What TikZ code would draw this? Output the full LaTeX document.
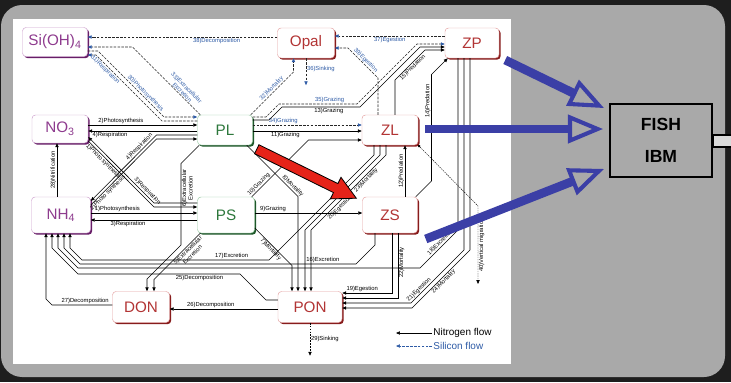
\documentclass[tikz,border=0pt]{standalone}
\usepackage{fontspec}
\setmainfont{Liberation Sans}
\usepackage{xcolor}
\usepackage{tikz}
\usetikzlibrary{arrows.meta,positioning,calc,shadows}
\definecolor{framedark}{RGB}{30,30,30}
\definecolor{framegray}{RGB}{169,169,169}
\definecolor{nutpurple}{RGB}{142,59,142}
\definecolor{nutshade}{RGB}{104,30,104}
\definecolor{nutedge}{RGB}{205,160,205}
\definecolor{detred}{RGB}{178,52,52}
\definecolor{detshade}{RGB}{135,28,28}
\definecolor{detedge}{RGB}{228,160,160}
\definecolor{phygreen}{RGB}{45,120,60}
\definecolor{physhade}{RGB}{30,88,42}
\definecolor{phyedge}{RGB}{150,200,160}
\definecolor{siblue}{RGB}{46,91,166}
\definecolor{fatblue}{RGB}{59,63,166}
\definecolor{hotred}{RGB}{230,35,25}
\definecolor{stubgray}{RGB}{218,218,218}
\newdimen\pxu
\pxu=0.03cm
\tikzset{
  pool/.style={draw, rounded corners=3pt, fill=white, line width=0.4pt, inner sep=1pt,
    font=\fontsize{13}{14}\selectfont},
  nutpool/.style={pool, draw=nutedge, text=nutpurple,
    drop shadow={shadow xshift=1.4pt, shadow yshift=-1.4pt, fill=nutshade, opacity=1}},
  phypool/.style={pool, draw=phyedge, text=phygreen,
    drop shadow={shadow xshift=1.4pt, shadow yshift=-1.4pt, fill=physhade, opacity=1}},
  detpool/.style={pool, draw=detedge, text=detred,
    drop shadow={shadow xshift=1.4pt, shadow yshift=-1.4pt, fill=detshade, opacity=1}},
  nflow/.style={line width=0.5pt, -{Triangle[length=3.4pt,width=2.8pt]}},
  siflow/.style={line width=0.5pt, draw=black!85, dash pattern=on 2.2pt off 1.1pt,
    -{Triangle[length=3.4pt,width=2.8pt,color=siblue]}},
  migflow/.style={line width=0.35pt, dash pattern=on 1.2pt off 0.8pt,
    arrows={Circle[length=2.2pt]-Triangle[length=3.4pt,width=2.8pt]}},
  flab/.style={font=\fontsize{5}{5.5}\selectfont, inner sep=0.6pt},
  silab/.style={flab, text=siblue},
  legtext/.style={font=\fontsize{8.5}{9}\selectfont, inner sep=1pt},
  fat/.style={draw=fatblue, line width=7.5pt,
    -{Triangle[open,length=30pt,width=24pt,line width=3.5pt]}},
  fishbox/.style={draw, line width=1.6pt, fill=framegray, align=center,
    font=\fontsize{15}{27}\selectfont\bfseries},
}

\begin{document}
\begin{tikzpicture}[x=0.03cm, y=-0.03cm]
  % frame
  \useasboundingbox (0,0) rectangle (731,382);
  \fill[framedark] (0,0) rectangle (731,382);
  \fill[framegray, rounded corners=18pt] (1,5) rectangle (725,377);
  \fill[white] (13,19) rectangle (511,364);

  % pools
  \node[nutpool, minimum width=65\pxu, minimum height=29\pxu] (SiOH) at (55,42) {Si(OH)\textsubscript{4}};
  \node[detpool, minimum width=57\pxu, minimum height=30\pxu] (Opal) at (306,43) {Opal};
  \node[detpool, minimum width=54\pxu, minimum height=30\pxu] (ZP) at (472,43) {ZP};
  \node[nutpool, minimum width=56\pxu, minimum height=28\pxu] (NO3) at (60,129) {NO\textsubscript{3}};
  \node[phypool, minimum width=55\pxu, minimum height=30\pxu] (PL) at (225,130) {PL};
  \node[detpool, minimum width=56\pxu, minimum height=30\pxu] (ZL) at (390,130) {ZL};
  \node[nutpool, minimum width=59\pxu, minimum height=36\pxu] (NH4) at (61,215) {NH\textsubscript{4}};
  \node[phypool, minimum width=57\pxu, minimum height=36\pxu] (PS) at (226,215) {PS};
  \node[detpool, minimum width=55\pxu, minimum height=36\pxu] (ZS) at (390,215) {ZS};
  \node[detpool, minimum width=57\pxu, minimum height=31\pxu] (DON) at (141,307) {DON};
  \node[detpool, minimum width=64\pxu, minimum height=31\pxu] (PON) at (310,307) {PON};

  % silicon flows
  \draw[siflow] (Opal.west |- 0,37) -- node[silab, below, pos=0.32] {38)Decomposition} (SiOH.east |- 0,37);
  \draw[siflow] ($(PL.north west)+(3,0)$) -- node[silab, sloped, above, align=center, pos=0.3] {33)Extracellular\\Excretion} (132.5,47) -- (SiOH.east |- 0,47);
  \draw[siflow] (SiOH.east |- 0,51) -- (98,51) -- node[silab, sloped, above, pos=0.68] {30)Photosynthesis} (164,117) -- (PL.west |- 0,117);
  \draw[siflow] (PL.west |- 0,121) -- (162,121) -- node[silab, sloped, below, pos=0.82] {31)Respiration} (96,55) -- (SiOH.east |- 0,55);
  \draw[siflow] ($(PL.north east)+(-2,0)$) -- node[silab, sloped, above, pos=0.55] {32)Mortality} (293.5,72) -- (Opal.south -| 293.5,0);
  \draw[siflow] (Opal.south) -- node[silab, right, pos=0.4] {36)Sinking} ++(0,27);
  \draw[siflow] (ZP.west |- 0,36) -- node[silab, below, pos=0.5] {37)Egestion} (Opal.east |- 0,36);
  \draw[siflow] (ZL.north -| 378,0) -- (378,78) -- node[silab, sloped, above, pos=0.5] {39)Egestion} (348,48) -- (Opal.east |- 0,48);
  \draw[siflow] (PL.east |- 0,117) -- (266,117) -- (279,104) -- node[silab, above, pos=0.65] {35)Grazing} (357,104) -- (417,44) -- (ZP.west |- 0,44);
  \draw[siflow] (PL.east |- 0,125) -- node[silab, above, pos=0.28] {34)Grazing} (ZL.west |- 0,125);

  % uptake and respiration
  \draw[nflow] (NO3.east |- 0,125) -- node[flab, above, pos=0.3] {2)Photosynthesis} (PL.west |- 0,125);
  \draw[nflow] (PL.west |- 0,131) -- node[flab, below, pos=0.8] {4)Respiration} (NO3.east |- 0,131);
  \draw[nflow] (NH4.east |- 0,213) -- node[flab, above, pos=0.25] {1)Photosynthesis} (PS.west |- 0,213);
  \draw[nflow] (PS.west |- 0,220) -- node[flab, below, pos=0.65] {3)Respiration} (NH4.east |- 0,220);
  \draw[nflow] (NO3.east |- 0,141) -- node[flab, sloped, below, pos=0.27] {1)Photo synthesis} (154,207) -- (PS.west |- 0,207);
  \draw[nflow] (PS.west |- 0,203) -- (154,203) -- node[flab, sloped, above, pos=0.14] {3)Respiration} (NO3.east |- 0,137);
  \draw[nflow] (NH4.east |- 0,205) -- node[flab, sloped, below, pos=0.22] {2)Photo synthesis} (156.5,139) -- (PL.west |- 0,139);
  \draw[nflow] (PL.west |- 0,135) -- (156.5,135) -- node[flab, sloped, above, pos=0.22] {4)Respiration} (NH4.east |- 0,201);
  \draw[nflow] (NH4.north -| 57,0) -- node[flab, rotate=90, above, pos=0.5] {28)Nitrification} (NO3.south -| 57,0);

  % phytoplankton losses
  \draw[nflow] ($(PS.south west)+(3,0)$) -- node[flab, sloped, below, align=center, pos=0.32] {5)Extracellular\\Excretion} (154,279.5) -- (DON.north -| 154,0);
  \draw[nflow] ($(PL.south west)+(2,0)$) -- (181,163.5) -- node[flab, rotate=90, below, align=center, pos=0.3] {6)Extracellular\\Excretion} (181,245) -- (147,279) -- (DON.north -| 147,0);
  \draw[nflow] (PS.east |- 0,228) -- node[flab, sloped, below, pos=0.5] {7)Mortality} (292,265.5) -- (PON.north -| 292,0);
  \draw[nflow] ($(PL.south east)+(-6,0)$) -- node[flab, sloped, above, pos=0.85] {8)Mortality} (298,196.5) -- (PON.north -| 298,0);

  % grazing and predation
  \draw[nflow] (PS.east |- 0,213) -- node[flab, above, pos=0.17] {9)Grazing} (ZS.west |- 0,213);
  \draw[nflow] ($(PS.north east)+(-3,0)$) -- node[flab, sloped, above, pos=0.17] {10)Grazing} (308.5,140) -- (ZL.west |- 0,140);
  \draw[nflow] (PL.east |- 0,131) -- node[flab, below, pos=0.3] {11)Grazing} (ZL.west |- 0,131);
  \draw[nflow] (ZS.north -| 405,0) -- node[flab, rotate=90, above, pos=0.5] {12)Predation} (ZL.south -| 405,0);
  \draw[nflow] (PL.east |- 0,120) -- (269,120) -- (282,107) -- node[flab, below, pos=0.6] {13)Grazing} (360,107) -- (420,47) -- (ZP.west |- 0,47);
  \draw[nflow] ($(ZS.north east)+(-2,0)$) -- (431.5,181) -- node[flab, rotate=90, above, pos=0.75] {14)Predation} (431.5,74.5) -- ($(ZP.south west)+(3,0)$);
  \draw[nflow] (ZL.north -| 395,0) -- (395,80) -- node[flab, sloped, below, pos=0.5] {15)Predation} (425,50) -- (ZP.west |- 0,50);

  % zooplankton losses
  \draw[nflow] (ZS.south -| 375,0) -- (375,245) -- (356,264) -- node[flab, above, pos=0.12] {16)Excretion} (80,264) -- (64,248) -- (NH4.south -| 64,0);
  \draw[nflow] (ZL.south -| 374,0) -- (374,155) -- (269,260) -- node[flab, above, pos=0.2] {17)Excretion} (82,260) -- (70,248) -- (NH4.south -| 70,0);
  \draw[nflow] (ZP.south -| 458,0) -- (458,230) -- node[flab, sloped, above, pos=0.4] {18)Excretion} (420,268) -- (78,268) -- (58,248) -- (NH4.south -| 58,0);
  \draw[nflow] (ZS.south -| 392,0) -- (392,293) -- node[flab, above, pos=0.6] {19)Egestion} (PON.east |- 0,293);
  \draw[nflow] (ZL.south -| 380,0) -- (380,155) -- node[flab, sloped, below=4.5pt, pos=0.62] {20)Egestion} (305,230) -- (PON.north -| 305,0);
  \draw[nflow] (ZP.south -| 464,0) -- (464,250) -- node[flab, sloped, above, pos=0.8] {21)Egestion} (411,303) -- (PON.east |- 0,303);
  \draw[nflow] (ZS.south -| 398,0) -- node[flab, rotate=90, below, pos=0.45] {22)Mortality} (398,298) -- (PON.east |- 0,298);
  \draw[nflow] (ZL.south -| 386,0) -- (386,155) -- node[flab, sloped, below, pos=0.3] {23)Mortality} (311,230) -- (PON.north -| 311,0);
  \draw[nflow] (ZP.south -| 470,0) -- (470,250) -- node[flab, sloped, below, pos=0.5] {24)Mortality} (412,308) -- (PON.east |- 0,308);
  \draw[migflow] (ZL.south east) -- (478,206) -- node[flab, rotate=90, below, pos=0.5] {40)Vertical migration} (478,284);

  % detritus
  \draw[nflow] (PON.west |- 0,300) -- (266,300) -- (240,274) -- node[flab, below, pos=0.25] {25)Decomposition} (78,274) -- (52,248) -- (NH4.south -| 52,0);
  \draw[nflow] (PON.west |- 0,309) -- node[flab, above, pos=0.62] {26)Decomposition} (DON.east |- 0,309);
  \draw[nflow] (DON.west |- 0,305) -- node[flab, above, pos=0.45] {27)Decomposition} (52,305) -- (46,299) -- (NH4.south -| 46,0);
  \draw[nflow, dash pattern=on 1.5pt off 1pt] (PON.south) -- node[flab, right, pos=0.5] {29)Sinking} ++(0,33);

  % legend
  \node[legtext, anchor=west] (legN) at (432,333) {Nitrogen flow};
  \node[legtext, anchor=west, text=siblue] (legSi) at (432,346) {Silicon flow};
  \draw[nflow] (legN.west) -- ++(-36,0);
  \draw[siflow, draw=siblue] (legSi.west) -- ++(-36,0);

  % highlighted pathway
  \begin{scope}[shift={($(PL.south east)+(4,4)$)}, rotate=-26.2]
    \filldraw[fill=hotred, draw=black, line width=0.7pt]
      (0,-5) -- (88,-5) -- (88,-12) -- (111,0) -- (88,12) -- (88,5) -- (0,5) -- cycle;
  \end{scope}

  % fish model
  \node[fishbox, minimum width=102\pxu, minimum height=73\pxu] (FISH) at (661,140.5) {FISH\\IBM};
  \draw[line width=1.4pt, fill=stubgray] (FISH.east |- 0,135) rectangle (734,147);
  \draw[fat] ($(ZP.east)+(6,17)$) -- ($(FISH.north west)+(-5,5)$);
  \draw[fat] ($(ZL.east)+(7,-1)$) -- ($(FISH.west |- ZL.east)+(-6,-1)$);
  \draw[fat] ($(ZS.east)+(8,24)$) -- ($(FISH.south west)+(-5,-9)$);
\end{tikzpicture}
\end{document}
